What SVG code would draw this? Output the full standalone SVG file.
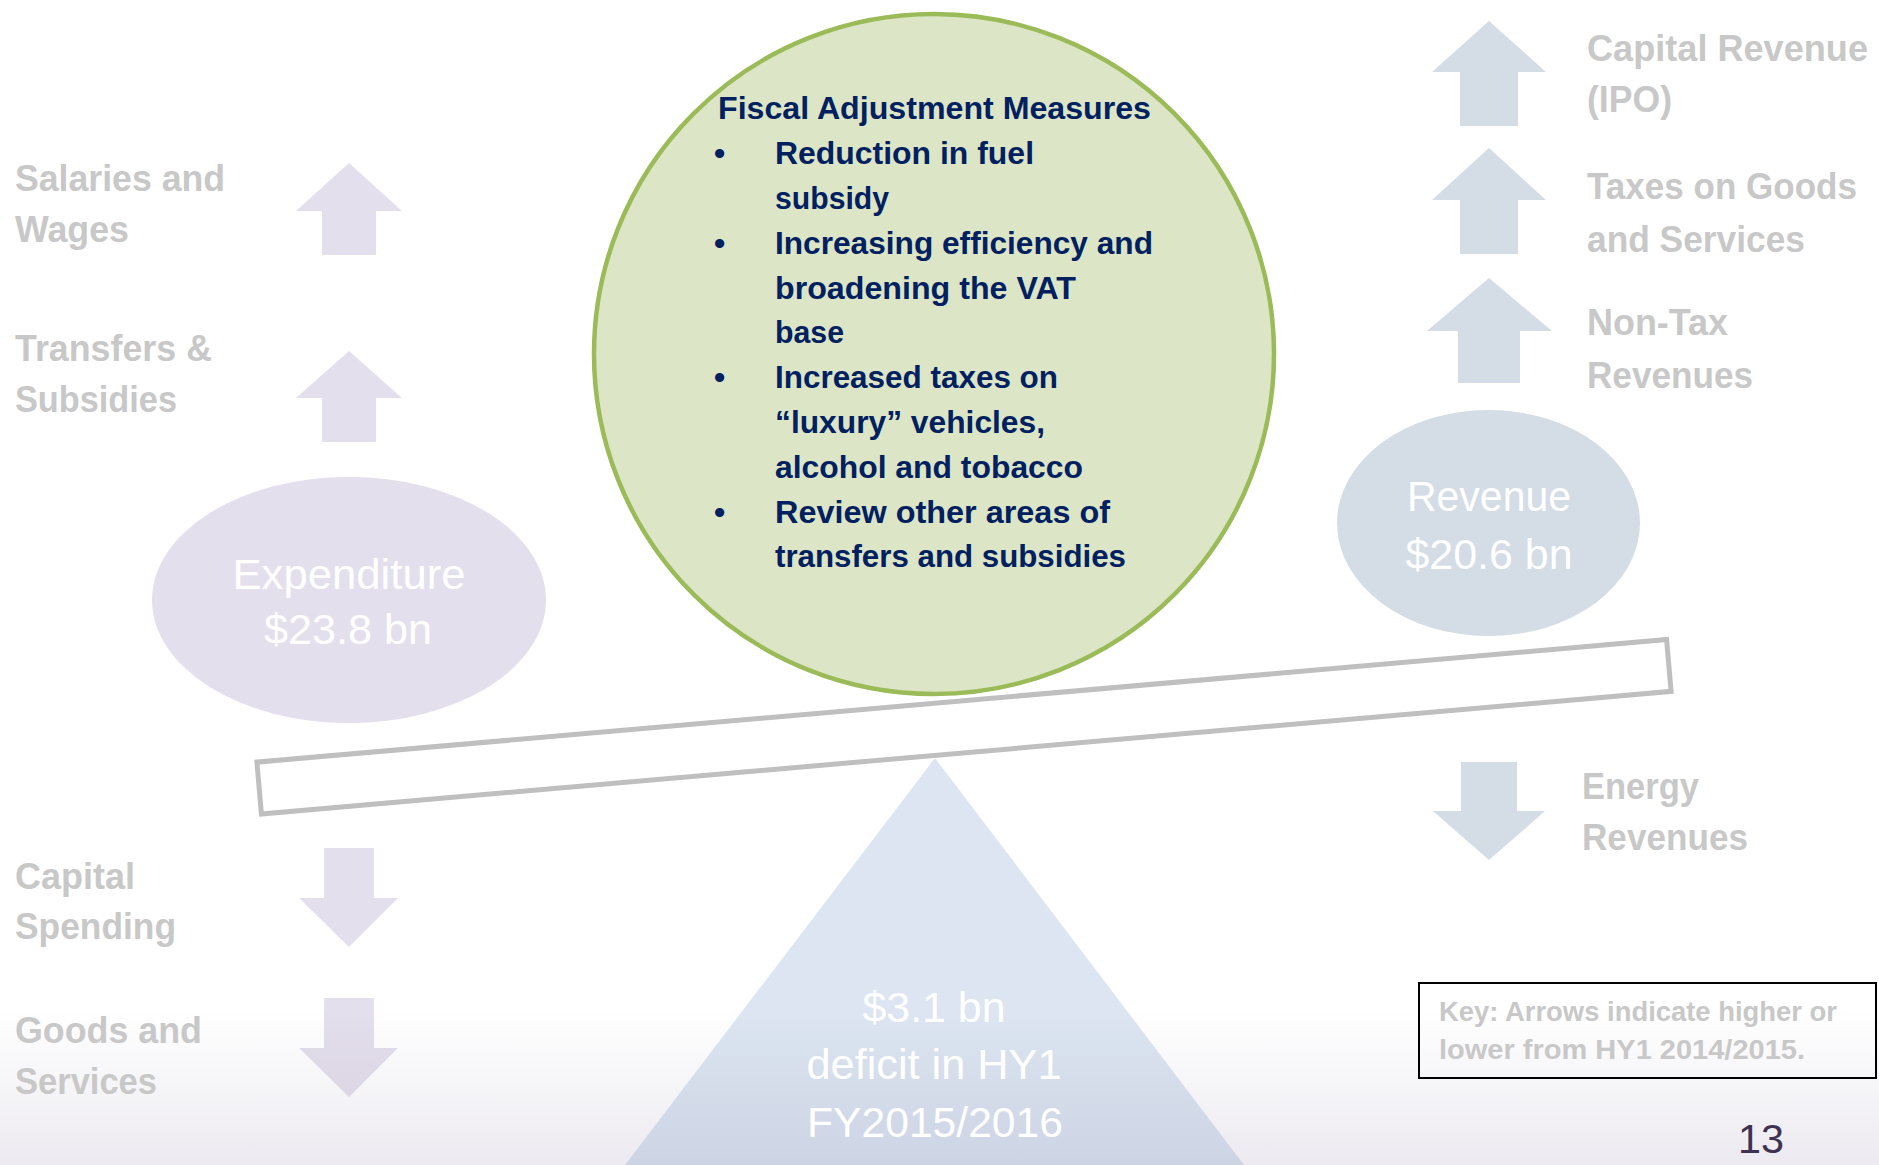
<svg xmlns="http://www.w3.org/2000/svg" width="1879" height="1165" viewBox="0 0 1879 1165">
  <defs>
    <linearGradient id="bgFade" gradientUnits="userSpaceOnUse" x1="0" y1="1010" x2="0" y2="1165">
      <stop offset="0" stop-color="#FFFFFF"/>
      <stop offset="1" stop-color="#ECEAF0"/>
    </linearGradient>
    <linearGradient id="lavFade" gradientUnits="userSpaceOnUse" x1="0" y1="1010" x2="0" y2="1165">
      <stop offset="0" stop-color="#E4DFEC"/>
      <stop offset="1" stop-color="#D5CEDF"/>
    </linearGradient>
    <linearGradient id="blueFade" gradientUnits="userSpaceOnUse" x1="0" y1="1010" x2="0" y2="1165">
      <stop offset="0" stop-color="#DCE5F1"/>
      <stop offset="1" stop-color="#CDD4E4"/>
    </linearGradient>
    <style>
      .lbl { font-family: "Liberation Sans", Arial, sans-serif; font-weight: bold; font-size: 36px; fill: #C8C8C8; }
      .meas { font-family: "Liberation Sans", Arial, sans-serif; font-weight: bold; font-size: 32px; fill: #002060; }
      .big { font-family: "Liberation Sans", Arial, sans-serif; font-size: 43px; fill: #FFFFFF; text-anchor: middle; }
      .key { font-family: "Liberation Sans", Arial, sans-serif; font-weight: bold; font-size: 27px; fill: #C8C8C8; }
      .up-exp, .down-exp { fill: url(#lavFade); }
      .up-rev, .down-rev { fill: #D4DCE6; }
    </style>
  </defs>

  <!-- page background with soft footer band -->
  <rect x="0" y="0" width="1879" height="1165" fill="url(#bgFade)"/>

  <!-- fulcrum: half-year deficit -->
  <g id="deficit">
    <polygon points="935,758 1244,1165 625,1165" fill="url(#blueFade)"/>
    <text class="big" x="934" y="1022" textLength="143" lengthAdjust="spacingAndGlyphs">$3.1 bn</text>
    <text class="big" x="934" y="1079" textLength="255" lengthAdjust="spacingAndGlyphs">deficit in HY1</text>
    <text class="big" x="935" y="1137" textLength="256" lengthAdjust="spacingAndGlyphs">FY2015/2016</text>
  </g>

  <!-- balance beam -->
  <g id="beam">
    <rect x="-707.5" y="-26" width="1415" height="52" fill="#FFFFFF" stroke="#BFBFBF" stroke-width="5"
          transform="translate(964 726.75) rotate(-4.97)"/>
  </g>

  <!-- expenditure side -->
  <g id="expenditure">
    <ellipse cx="349" cy="600" rx="197" ry="123" fill="#E4DFEC"/>
    <text class="big" x="349" y="589" font-size="44" textLength="233" lengthAdjust="spacingAndGlyphs">Expenditure</text>
    <text class="big" x="348" y="644" font-size="44" textLength="168" lengthAdjust="spacingAndGlyphs">$23.8 bn</text>
  </g>

  <g id="salaries">
    <polygon class="up-exp" points="349,163 402,211 376,211 376,255 322,255 322,211 296,211"/>
    <text class="lbl" x="15" y="191" textLength="210" lengthAdjust="spacingAndGlyphs">Salaries and</text>
    <text class="lbl" x="15" y="242" textLength="114" lengthAdjust="spacingAndGlyphs">Wages</text>
  </g>

  <g id="transfers">
    <polygon class="up-exp" points="349,351 402,398 376,398 376,442 322,442 322,398 296,398"/>
    <text class="lbl" x="15" y="361" textLength="197" lengthAdjust="spacingAndGlyphs">Transfers &amp;</text>
    <text class="lbl" x="15" y="412" textLength="162" lengthAdjust="spacingAndGlyphs">Subsidies</text>
  </g>

  <g id="capital-spending">
    <polygon class="down-exp" points="324,848 374,848 374,898 398,898 349,947 299,898 324,898"/>
    <text class="lbl" x="15" y="889" textLength="120" lengthAdjust="spacingAndGlyphs">Capital</text>
    <text class="lbl" x="15" y="939" textLength="161" lengthAdjust="spacingAndGlyphs">Spending</text>
  </g>

  <g id="goods-services">
    <polygon class="down-exp" points="324,998 374,998 374,1048 398,1048 349,1097 299,1048 324,1048"/>
    <text class="lbl" x="15" y="1043" textLength="187" lengthAdjust="spacingAndGlyphs">Goods and</text>
    <text class="lbl" x="15" y="1094" textLength="142" lengthAdjust="spacingAndGlyphs">Services</text>
  </g>

  <!-- revenue side -->
  <g id="revenue">
    <ellipse cx="1488.5" cy="523" rx="151.5" ry="113" fill="#D4DCE6"/>
    <text class="big" x="1489" y="511" textLength="164" lengthAdjust="spacingAndGlyphs">Revenue</text>
    <text class="big" x="1489" y="569" textLength="167" lengthAdjust="spacingAndGlyphs">$20.6 bn</text>
  </g>

  <g id="capital-revenue">
    <polygon class="up-rev" points="1489,21 1546,72 1518,72 1518,126 1460,126 1460,72 1432,72"/>
    <text class="lbl" x="1587" y="61" textLength="281" lengthAdjust="spacingAndGlyphs">Capital Revenue</text>
    <text class="lbl" x="1587" y="112" textLength="85" lengthAdjust="spacingAndGlyphs">(IPO)</text>
  </g>

  <g id="taxes-goods">
    <polygon class="up-rev" points="1489,148 1546,200 1518,200 1518,254 1460,254 1460,200 1432,200"/>
    <text class="lbl" x="1587" y="199" textLength="270" lengthAdjust="spacingAndGlyphs">Taxes on Goods</text>
    <text class="lbl" x="1587" y="252" textLength="218" lengthAdjust="spacingAndGlyphs">and Services</text>
  </g>

  <g id="non-tax">
    <polygon class="up-rev" points="1489,278 1552,331 1520,331 1520,383 1458,383 1458,331 1427,331"/>
    <text class="lbl" x="1587" y="335" textLength="141" lengthAdjust="spacingAndGlyphs">Non-Tax</text>
    <text class="lbl" x="1587" y="388" textLength="166" lengthAdjust="spacingAndGlyphs">Revenues</text>
  </g>

  <g id="energy">
    <polygon class="down-rev" points="1461,762 1517,762 1517,811 1545,811 1489,860 1433,811 1461,811"/>
    <text class="lbl" x="1582" y="799" textLength="117" lengthAdjust="spacingAndGlyphs">Energy</text>
    <text class="lbl" x="1582" y="850" textLength="166" lengthAdjust="spacingAndGlyphs">Revenues</text>
  </g>

  <!-- adjustment measures -->
  <g id="measures">
    <circle cx="934" cy="354" r="340" fill="#DCE6C6" stroke="#9BBB59" stroke-width="4.5"/>
    <text class="meas" x="718" y="119" textLength="433" lengthAdjust="spacingAndGlyphs">Fiscal Adjustment Measures</text>
    <text class="meas" x="714" y="164">•</text>
    <text class="meas" x="775" y="164" textLength="259" lengthAdjust="spacingAndGlyphs">Reduction in fuel</text>
    <text class="meas" x="775" y="209" textLength="114" lengthAdjust="spacingAndGlyphs">subsidy</text>
    <text class="meas" x="714" y="254">•</text>
    <text class="meas" x="775" y="254" textLength="378" lengthAdjust="spacingAndGlyphs">Increasing efficiency and</text>
    <text class="meas" x="775" y="299" textLength="301" lengthAdjust="spacingAndGlyphs">broadening the VAT</text>
    <text class="meas" x="775" y="343" textLength="69" lengthAdjust="spacingAndGlyphs">base</text>
    <text class="meas" x="714" y="388">•</text>
    <text class="meas" x="775" y="388" textLength="283" lengthAdjust="spacingAndGlyphs">Increased taxes on</text>
    <text class="meas" x="775" y="433" textLength="270" lengthAdjust="spacingAndGlyphs">“luxury” vehicles,</text>
    <text class="meas" x="775" y="478" textLength="308" lengthAdjust="spacingAndGlyphs">alcohol and tobacco</text>
    <text class="meas" x="714" y="523">•</text>
    <text class="meas" x="775" y="523" textLength="335" lengthAdjust="spacingAndGlyphs">Review other areas of</text>
    <text class="meas" x="775" y="567" textLength="351" lengthAdjust="spacingAndGlyphs">transfers and subsidies</text>
  </g>

  <!-- legend -->
  <g id="key">
    <rect x="1419" y="983" width="457" height="95" fill="none" stroke="#000000" stroke-width="2"/>
    <text class="key" x="1439" y="1021" textLength="398" lengthAdjust="spacingAndGlyphs">Key: Arrows indicate higher or</text>
    <text class="key" x="1439" y="1059" textLength="366" lengthAdjust="spacingAndGlyphs">lower from HY1 2014/2015.</text>
  </g>

  <g id="page-number">
    <text x="1738" y="1153" font-family="Liberation Sans, Arial, sans-serif" font-size="41" fill="#3F3151" textLength="46" lengthAdjust="spacingAndGlyphs">13</text>
  </g>

  <!-- no connectors: arrows are standalone indicators -->
  <g id="connectors"/>
</svg>
